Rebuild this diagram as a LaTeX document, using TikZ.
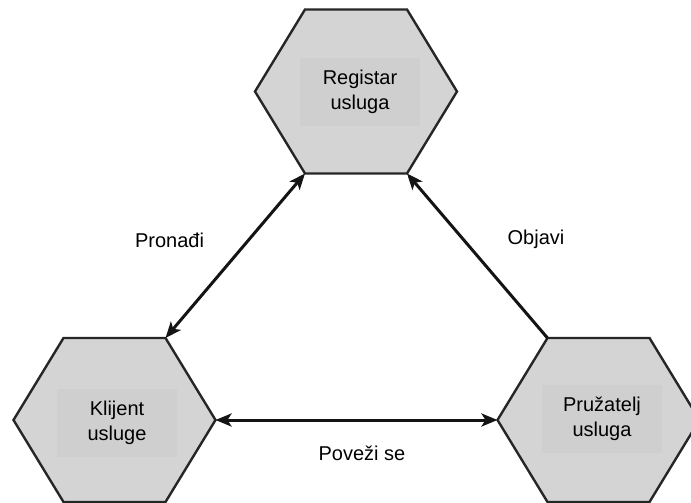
\documentclass[tikz,border=0pt]{standalone}
\usepackage{fontspec}
\setmainfont{Liberation Sans}
\usetikzlibrary{arrows.meta}
\definecolor{hexfill}{RGB}{212,212,212}
\definecolor{boxfill}{RGB}{207,207,207}
\tikzset{
  hexshape/.style={draw=black!85, line width=2.4pt, fill=hexfill, line join=miter},
  inner/.style={fill=boxfill, minimum width=120pt, minimum height=68pt,
    align=center, inner sep=0pt, font=\fontsize{20}{25}\selectfont},
  lbl/.style={font=\fontsize{20}{24}\selectfont, inner sep=0pt},
  link/.style={line width=3pt, draw=black!92},
  tip/.tip={Stealth[length=16pt, width=13pt, inset=4pt]},
  hex/.pic={
    \path[hexshape]
      (-101,0) coordinate (-l)
      -- (-51,-82) coordinate (-tl)
      -- (51,-82) coordinate (-tr)
      -- (101,0) coordinate (-r)
      -- (51,82) coordinate (-br)
      -- (-51,82) coordinate (-bl)
      -- cycle;
  }
}
\begin{document}
\begin{tikzpicture}[x=1pt, y=-1pt]
  \useasboundingbox (0,0) rectangle (691,503);
  \clip (0,0) rectangle (691,503);

  % three service roles
  \pic (reg) at (356,91.5) {hex};
  \pic (cli) at (114.5,420) {hex};
  \pic (pru) at (598.5,420) {hex};

  \node[inner] (regtext) at (360,92) {Registar\\usluga};
  \node[inner] (clitext) at (117,423) {Klijent\\usluge};
  \node[inner] (prutext) at (602,419) {Pružatelj\\usluga};

  % interactions between the roles
  \draw[link, tip-tip] (cli-tr) -- (reg-bl);
  \draw[link, -tip] (pru-tl) -- (reg-br);
  \draw[link, tip-tip] (cli-r) -- (pru-l);

  \node[lbl] (find) at (169.5,240) {Pronađi};
  \node[lbl] (publish) at (536,239) {Objavi};
  \node[lbl] (bind) at (362,453) {Poveži se};
\end{tikzpicture}
\end{document}
